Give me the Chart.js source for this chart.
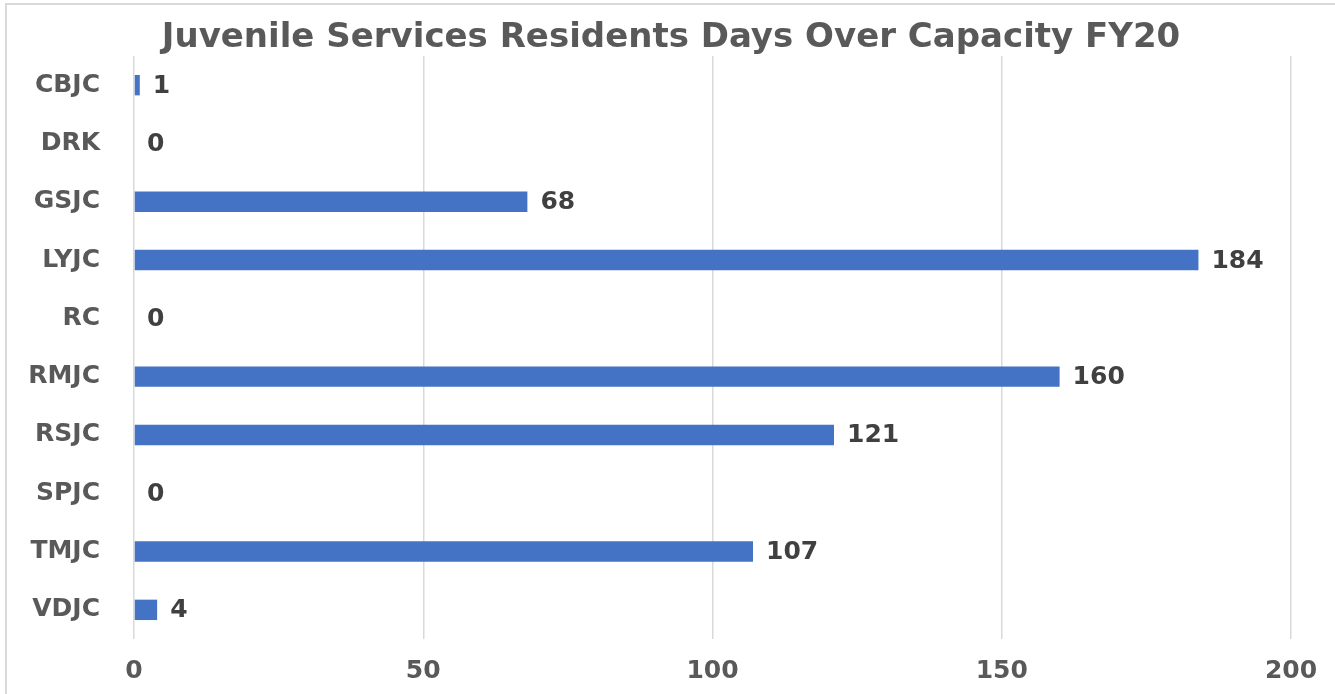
<!DOCTYPE html>
<html>
<head>
<meta charset="utf-8">
<script src="https://cdn.jsdelivr.net/npm/chart.js@4.4.0/dist/chart.umd.min.js"></script>
<style>
  html, body { margin: 0; padding: 0; background: #fff; overflow: hidden; }
  #wrap { position: relative; width: 1335px; height: 694px; overflow: hidden; }
  #wrap canvas { display: block; }
  #frame { position: absolute; left: 5px; top: 3px; width: 1400px; height: 760px;
           border-left: 2px solid #d9d9d9; border-top: 2px solid #d9d9d9; pointer-events: none; }
</style>
</head>
<body>
<div id="wrap">
  <canvas id="capacityChart" width="1335" height="694"></canvas>
  <div id="frame"></div>
</div>
<script>
const facilities = ["CBJC", "DRK", "GSJC", "LYJC", "RC", "RMJC", "RSJC", "SPJC", "TMJC", "VDJC"];
const daysOver = [1, 0, 68, 184, 0, 160, 121, 0, 107, 4];
const xTicks = [0, 50, 100, 150, 200];

const FONT = "'DejaVu Sans', Verdana, sans-serif";

// draw the value beside each bar
const valueLabels = {
  id: 'valueLabels',
  afterDatasetsDraw(chart) {
    const ctx = chart.ctx;
    const meta = chart.getDatasetMeta(0);
    ctx.save();
    ctx.font = 'bold 25px ' + FONT;
    ctx.fillStyle = '#404040';
    ctx.textAlign = 'left';
    ctx.textBaseline = 'middle';
    meta.data.forEach((bar, i) => {
      ctx.fillText(String(daysOver[i]), bar.x + 13, bar.y + 1);
    });
    ctx.restore();
  }
};

// title is centred on the whole frame, not on the padded area
const titleSpan = {
  id: 'titleSpan',
  afterLayout(chart) {
    if (chart.titleBlock) {
      chart.titleBlock.left = 7;
      chart.titleBlock.right = 1335;
    }
  }
};

new Chart(document.getElementById('capacityChart').getContext('2d'), {
  type: 'bar',
  data: {
    labels: facilities,
    datasets: [{
      data: daysOver,
      backgroundColor: '#4472C4',
      barPercentage: 0.35,
      categoryPercentage: 1.0
    }]
  },
  options: {
    indexAxis: 'y',
    responsive: false,
    animation: false,
    layout: { padding: { top: 0, right: 44, bottom: 0, left: 0 } },
    plugins: {
      legend: { display: false },
      tooltip: { enabled: false },
      title: {
        display: true,
        text: 'Juvenile Services Residents Days Over Capacity FY20',
        color: '#595959',
        font: { family: FONT, size: 34, weight: 'bold', lineHeight: 1.0 },
        padding: { top: 21, bottom: 1 }
      }
    },
    scales: {
      x: {
        min: 0,
        max: 200,
        afterBuildTicks(scale) { scale.ticks = xTicks.map(v => ({ value: v })); },
        afterFit(scale) { scale.height = 55; },
        grid: { color: '#d9d9d9', lineWidth: 1.5, drawTicks: false },
        border: { display: false },
        ticks: {
          color: '#595959',
          padding: 17,
          maxRotation: 0,
          font: { family: FONT, size: 25, weight: 'bold' }
        }
      },
      y: {
        grid: { display: false, drawTicks: false },
        border: { display: false },
        afterFit(scale) { scale.width = 134; },
        ticks: {
          color: '#595959',
          padding: 34,
          font: { family: FONT, size: 25, weight: 'bold' }
        }
      }
    }
  },
  plugins: [valueLabels, titleSpan]
});
</script>
</body>
</html>
